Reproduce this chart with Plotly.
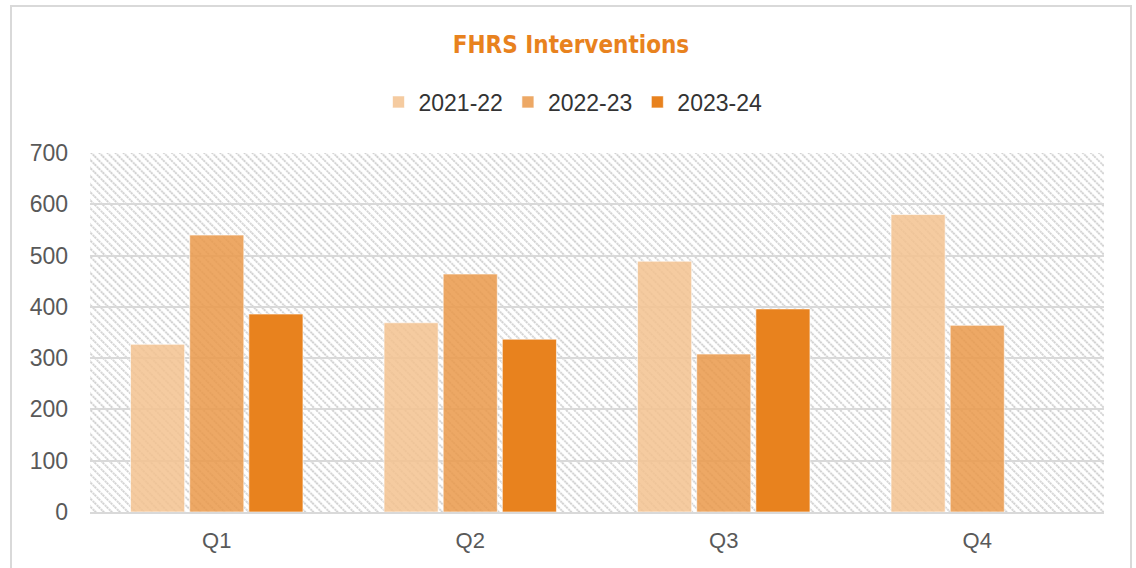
import base64
import plotly.graph_objects as go

quarters = ["Q1", "Q2", "Q3", "Q4"]
series_names = ["2021-22", "2022-23", "2023-24"]
v_2021_22 = [327, 369, 489, 580]
v_2022_23 = [540, 464, 308, 364]
v_2023_24 = [386, 337, 396, None]
y_ticks = [0, 100, 200, 300, 400, 500, 600, 700]

colors = ["rgba(243,194,143,0.85)", "rgba(234,153,74,0.85)", "rgb(232,130,30)"]

W, H = 1136, 568
ML, MR, MT, MB = 90, 32, 153, 56
PW, PH = W - ML - MR, H - MT - MB

fig = go.Figure()
for name, vals, col in zip(series_names, [v_2021_22, v_2022_23, v_2023_24], colors):
    fig.add_trace(go.Bar(
        x=quarters, y=vals, name=name,
        marker=dict(color=col, line=dict(color="rgba(255,255,255,0.6)", width=1)),
    ))

# hatch pattern background for plot area
svg = f'''<svg xmlns="http://www.w3.org/2000/svg" width="{PW}" height="{PH}" viewBox="0 0 {PW} {PH}" preserveAspectRatio="none">
<defs><pattern id="p" width="5.7" height="5.7" patternUnits="userSpaceOnUse" patternTransform="rotate(-45)">
<line x1="1" y1="0" x2="1" y2="5.7" stroke="#d2d2d2" stroke-width="2" stroke-dasharray="2.2 0.8"/></pattern></defs>
<rect width="{PW}" height="{PH}" fill="white"/><rect width="{PW}" height="{PH}" fill="url(#p)"/></svg>'''
src = "data:image/svg+xml;base64," + base64.b64encode(svg.encode()).decode()

def px2paper_x(px):
    return (px - ML) / PW

def px2paper_y(py):
    return (H - MB - py) / PH

fig.update_layout(
    width=W, height=H,
    margin=dict(l=ML, r=MR, t=MT, b=MB, pad=0, autoexpand=False),
    paper_bgcolor="white", plot_bgcolor="rgba(0,0,0,0)",
    font=dict(family="Arial, Liberation Sans, sans-serif", color="#595959", size=22),
    title=dict(text="<b>FHRS Interventions</b>", xref="container", x=571 / W, xanchor="center",
               yref="container", y=1 - 45 / H, yanchor="middle",
               font=dict(family="DejaVu Sans Condensed, Liberation Sans Narrow, Arial Narrow, sans-serif",
                         size=24, color="#E8821E")),
    barmode="group", bargap=0.30, bargroupgap=0.085,
    showlegend=True,
    legend=dict(orientation="h", x=px2paper_x(573), xanchor="center", y=px2paper_y(102), yanchor="middle",
                font=dict(size=23, color="#333333"), itemwidth=30, traceorder="normal", bgcolor="rgba(0,0,0,0)"),
    xaxis=dict(showgrid=False, showline=True, linecolor="#D9D9D9", linewidth=2, ticks="",
               tickfont=dict(size=22, color="#595959"), ticklabelstandoff=8, fixedrange=True,
               automargin=False),
    yaxis=dict(range=[0, 700], tickvals=y_ticks, showgrid=True, gridcolor="#D9D9D9", gridwidth=2,
               zeroline=False, showline=False, ticks="", ticklabelstandoff=21,
               tickfont=dict(size=23, color="#595959"), fixedrange=True, automargin=False),
    images=[dict(source=src, xref="paper", yref="paper", x=0, y=1, sizex=1, sizey=1,
                 xanchor="left", yanchor="top", sizing="stretch", layer="below")],
    shapes=[dict(type="rect", xref="paper", yref="paper",
                 x0=px2paper_x(11), x1=px2paper_x(1131), y0=px2paper_y(575), y1=px2paper_y(6),
                 line=dict(color="#D9D9D9", width=2), fillcolor="rgba(0,0,0,0)", layer="below")],
)

fig.write_html("out.html", config={"displayModeBar": False},
               post_script="document.body.style.margin='0';document.body.style.overflow='hidden';")
